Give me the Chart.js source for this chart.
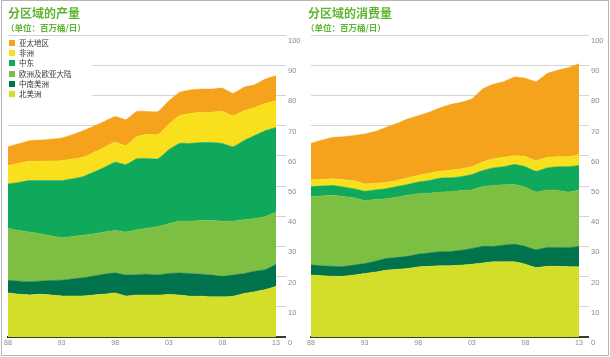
<!DOCTYPE html>
<html><head><meta charset="utf-8">
<script src="https://cdn.jsdelivr.net/npm/chart.js@4"></script>
<style>
html,body{margin:0;padding:0;background:#fff;}
body{width:610px;height:357px;position:relative;overflow:hidden;font-family:"Noto Sans CJK SC","Liberation Sans",sans-serif;}
.frame{position:absolute;left:1px;top:0px;width:606px;height:354px;border:1px solid #b5b5b5;}
.panel{position:absolute;top:0;width:305px;height:357px;}
.panel canvas{position:absolute;left:0;top:0;}
.title{position:absolute;top:5px;font-weight:bold;font-size:12px;color:#5fb431;line-height:16px;white-space:nowrap;}
.sub{position:absolute;top:21px;font-weight:bold;font-size:8.5px;color:#5fb431;line-height:12px;white-space:nowrap;}
.legend{position:absolute;left:2px;top:38px;width:90px;height:63px;background:#fff;}
.legend div{position:relative;height:10.2px;font-size:7.5px;line-height:10px;color:#333;padding-left:17px;white-space:nowrap;}
.legend span{position:absolute;left:7px;top:2px;width:6px;height:6px;}
</style></head>
<body>
<div class="panel" style="left:0"><canvas id="c1" width="305" height="357"></canvas>
  <div class="title" style="left:8px">分区域的产量</div>
  <div class="sub" style="left:6px">（单位：百万桶/日）</div>
  <div class="legend" id="leg"></div>
</div>
<div class="panel" style="left:305px"><canvas id="c2" width="305" height="357"></canvas>
  <div class="title" style="left:3px">分区域的消费量</div>
  <div class="sub" style="left:1px">（单位：百万桶/日）</div>
</div>
<div class="frame"></div>
<script>
const years = [1988,1989,1990,1991,1992,1993,1994,1995,1996,1997,1998,1999,2000,2001,2002,2003,2004,2005,2006,2007,2008,2009,2010,2011,2012,2013];
const regions = ["北美洲","中南美洲","欧洲及欧亚大陆","中东","非洲","亚太地区"];
const colors = ["#d3de2b","#00724c","#7cbf43","#10a95c","#f8e11c","#f5a21d"];
const yTicks = [0,10,20,30,40,50,60,70,80,90,100];

// Production (million barrels/day)
const prodNA = [14.6,14.2,13.9,14.2,13.9,13.6,13.6,13.6,13.9,14.2,14.6,13.6,13.9,13.9,13.9,14.1,13.9,13.5,13.5,13.3,13.3,13.5,14.4,15.0,15.7,16.8];
const prodSA = [4.2,4.3,4.4,4.3,4.8,5.2,5.6,6.0,6.3,6.6,6.6,6.9,6.7,6.9,6.6,6.9,7.3,7.5,7.3,7.2,6.8,7.0,6.6,6.8,6.6,7.2];
const prodEU = [17.1,16.8,16.5,15.7,14.8,14.1,14.1,14.1,14.0,14.0,14.1,14.3,14.9,15.2,16.1,16.5,17.2,17.4,17.8,18.1,18.2,17.9,17.8,17.4,17.6,17.4];
const prodME = [14.8,15.9,17.0,17.6,18.3,18.9,19.1,19.4,20.4,21.4,22.6,22.3,23.5,23.1,22.4,24.5,25.7,25.7,25.8,25.8,25.8,24.6,26.2,27.5,28.4,28.0];
const prodAF = [6.1,6.3,6.4,6.4,6.5,6.6,6.5,6.4,6.5,6.6,6.6,6.3,7.3,8.0,8.0,8.5,9.2,9.9,10.0,10.0,10.6,10.3,9.9,9.3,9.0,8.8];
const prodAP = [6.2,6.5,6.8,7.0,7.2,7.5,8.1,8.8,8.7,8.6,8.5,8.6,8.4,7.6,7.7,7.7,7.7,7.8,7.7,7.7,7.7,7.4,7.8,7.5,8.1,8.3];

// Consumption (million barrels/day)
const consNA = [20.5,20.3,20.1,20.1,20.5,21.0,21.5,22.1,22.4,22.7,23.2,23.4,23.6,23.6,23.8,24.1,24.5,24.9,24.9,24.9,24.1,23.0,23.4,23.4,23.3,23.3];
const consSA = [3.3,3.3,3.3,3.2,3.3,3.3,3.6,3.9,3.9,4.0,4.2,4.4,4.6,4.7,4.9,5.2,5.5,5.1,5.5,5.8,5.9,5.9,6.2,6.2,6.3,6.7];
const consEU = [22.7,23.1,23.5,23.2,22.3,20.9,20.4,19.8,20.0,20.2,20.0,19.8,19.8,19.8,19.8,19.4,19.8,20.2,20.0,19.8,19.6,19.1,19.1,18.9,18.4,18.7];
const consME = [3.3,3.3,3.3,3.2,3.0,3.1,3.2,3.3,3.5,3.6,3.9,4.2,4.6,4.6,4.6,5.1,5.3,5.8,6.0,6.6,6.8,6.9,7.3,7.9,8.4,8.1];
const consAF = [2.2,2.2,2.2,2.4,2.7,2.4,2.2,2.1,2.0,2.2,2.2,2.4,2.3,2.5,2.6,2.6,2.8,3.0,3.1,3.0,3.3,3.5,3.5,3.3,3.3,3.6];
const consAP = [12.1,13.0,13.7,14.2,14.9,16.5,17.2,18.2,18.9,19.5,19.8,20.2,20.9,21.8,22.0,22.4,24.2,24.7,25.1,26.0,26.0,26.2,27.7,28.6,29.5,30.1];

const prodSeries = [prodNA,prodSA,prodEU,prodME,prodAF,prodAP];
const consSeries = [consNA,consSA,consEU,consME,consAF,consAP];

// HTML legend (top item first)
const leg = document.getElementById('leg');
for (let i = regions.length - 1; i >= 0; i--) {
  const d = document.createElement('div');
  d.innerHTML = '<span style="background:' + colors[i] + '"></span>' + regions[i];
  leg.appendChild(d);
}

function makeChart(id, series, yWidth, padLeft) {
  const datasets = series.map((vals, i) => ({
    label: regions[i],
    data: vals.map((v, k) => ({x: years[k], y: v})),
    backgroundColor: colors[i],
    borderColor: colors[i],
    borderWidth: 0.5,
    pointRadius: 0,
    fill: i === 0 ? 'origin' : '-1',
    tension: 0.15
  }));
  return new Chart(document.getElementById(id), {
    type: 'line',
    data: {datasets},
    options: {
      responsive: false,
      animation: false,
      layout: {padding: {left: padLeft, top: 35, right: 0, bottom: 0}},
      plugins: {legend: {display: false}, tooltip: {enabled: false}},
      scales: {
        x: {
          type: 'linear', min: years[0], max: years[years.length - 1],
          afterBuildTicks: s => { s.ticks = years.filter(y => (y - years[0]) % 5 === 0).map(v => ({value: v})); },
          grid: {display: false, drawTicks: false},
          border: {display: true, color: '#3a3a2a', width: 2},
          afterFit: s => { s.height = 20; },
          ticks: {color: '#8a8a8a', font: {size: 7, family: 'Liberation Sans'}, padding: 2, maxRotation: 0,
                  callback: v => String(v).slice(2)}
        },
        y: {
          position: 'right', stacked: true, min: 0, max: 100,
          afterBuildTicks: s => { s.ticks = yTicks.map(v => ({value: v})); },
          afterFit: s => { s.width = yWidth; },
          border: {display: false},
          grid: {
            color: c => c.tick && c.tick.value === 0 ? '#3a3a2a' : '#d4d4d4',
            tickColor: c => c.tick && c.tick.value === 0 ? '#3a3a2a' : '#d4d4d4',
            lineWidth: c => c.tick && c.tick.value === 0 ? 2 : 1,
            drawTicks: true, tickLength: 10
          },
          ticks: {color: '#8a8a8a', font: {size: 7.5, family: 'Liberation Sans'}, padding: 2, labelOffset: 6}
        }
      }
    }
  });
}
makeChart('c1', prodSeries, 29, 8);
makeChart('c2', consSeries, 31, 6);
</script>
</body></html>
